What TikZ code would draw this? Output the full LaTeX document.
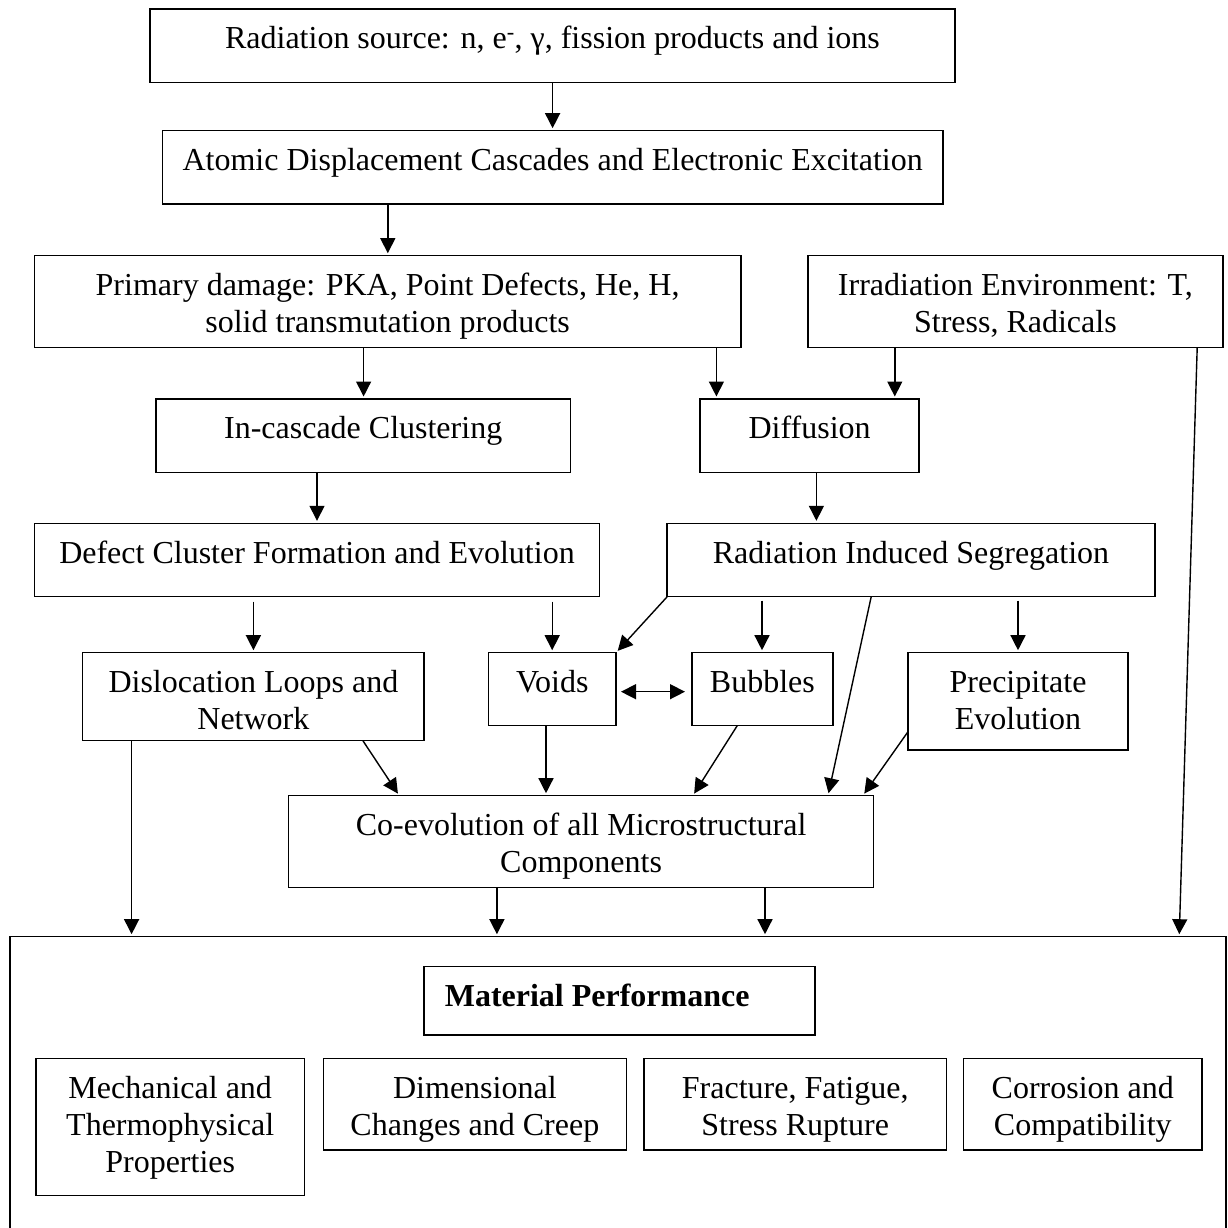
\documentclass[tikz,border=0pt]{standalone}
\usepackage{fontspec}
\setmainfont{Liberation Serif}
\usetikzlibrary{arrows.meta}
\newcommand{\bxt}[3]{\parbox[c][#2pt][t]{#1pt}{\vspace*{14.3pt}\centering\strut #3\par}}
\begin{document}
\begin{tikzpicture}[x=1pt,y=-1pt,
  bx/.style={draw, line width=1.5pt, inner sep=0pt, outer sep=0pt, font=\fontsize{32}{36.7}\selectfont},
  frame/.style={line width=1.5pt},
  arr/.style={line width=1.4pt, -{Triangle[length=15pt,width=15pt]}, shorten >=2.5pt},
  darr/.style={line width=1.4pt, {Triangle[length=15pt,width=15pt]}-{Triangle[length=15pt,width=15pt]}, shorten >=7pt, shorten <=5pt}]
\useasboundingbox (0,0) rectangle (1227,1228);

% boxes
\node[bx] (src) at (552.5,45.65) {\bxt{804.6}{73.3}{Radiation source: n, e\textsuperscript{-}, γ, fission products and ions}};
\node[bx] (disp) at (552.65,167.35) {\bxt{780.3}{73.3}{Atomic Displacement Cascades and Electronic Excitation}};
\node[bx] (prim) at (387.6,301.5) {\bxt{706.4}{91.6}{Primary damage: PKA, Point Defects, He, H,\\ solid transmutation products}};
\node[bx] (env) at (1015.4,301.5) {\bxt{414.8}{91.6}{Irradiation Environment: T,\\ Stress, Radicals}};
\node[bx] (incas) at (363.2,435.65) {\bxt{414.4}{73.3}{In-cascade Clustering}};
\node[bx] (diff) at (809.6,435.65) {\bxt{219.2}{73.3}{Diffusion}};
\node[bx] (defect) at (317,560) {\bxt{565.2}{73.4}{Defect Cluster Formation and Evolution}};
\node[bx] (ris) at (911,560) {\bxt{487.6}{73.4}{Radiation Induced Segregation}};
\node[bx] (disl) at (253.4,696.7) {\bxt{341.6}{88}{Dislocation Loops and\\ Network}};
\node[bx] (voids) at (552.3,689.2) {\bxt{127.4}{73}{Voids}};
\node[bx] (bubbles) at (762.4,689.2) {\bxt{140.8}{73}{Bubbles}};
\node[bx] (precip) at (1018,701.35) {\bxt{220}{97.3}{Precipitate\\ Evolution}};
\node[bx] (coevol) at (581.1,841.5) {\bxt{585}{91.6}{Co-evolution of all Microstructural\\ Components}};

% material performance frame (bottom edge outside the picture)
\node[inner sep=0pt, outer sep=0pt, minimum width=1216.1pt, minimum height=291.3pt] (perf) at (617.95,1082.35) {};
\draw[frame] (perf.south west) -- (perf.north west) -- (perf.north east) -- (perf.south east);

\node[bx] (mp) at (619.3,1000.85) {\parbox[c][68.3pt][t]{391pt}{\vspace*{14.3pt}\hspace*{21pt}\strut\bfseries Material Performance\par}};
\node[bx] (mech) at (170.2,1127) {\bxt{268.4}{136.6}{Mechanical and\\ Thermophysical\\ Properties}};
\node[bx] (dim) at (474.9,1104.35) {\bxt{303}{91.3}{Dimensional\\ Changes and Creep}};
\node[bx] (frac) at (795.2,1104.35) {\bxt{302.4}{91.3}{Fracture, Fatigue,\\ Stress Rupture}};
\node[bx] (corr) at (1082.8,1104.35) {\bxt{238.4}{91.3}{Corrosion and\\ Compatibility}};

% connectors
\draw[arr] (src.south -| 552.6,0) -- (disp.north -| 552.6,0);
\draw[arr] (disp.south -| 387.8,0) -- (prim.north -| 387.8,0);
\draw[arr] (prim.south -| 363.6,0) -- (incas.north -| 363.6,0);
\draw[arr] (prim.south -| 716.4,0) -- (diff.north -| 716.4,0);
\draw[arr] (env.south -| 894.8,0) -- (diff.north -| 894.8,0);
\draw[arr] (incas.south -| 317,0) -- (defect.north -| 317,0);
\draw[arr] (diff.south -| 816.4,0) -- (ris.north -| 816.4,0);
\draw[arr, shorten <=5pt] (defect.south -| 253.4,0) -- (disl.north -| 253.4,0);
\draw[arr, shorten <=5pt] (defect.south -| 552.2,0) -- (voids.north -| 552.2,0);
\draw[arr] (ris.south west) -- (voids.north east);
\draw[arr, shorten <=4pt] (ris.south -| 762,0) -- (bubbles.north -| 762,0);
\draw[arr] (ris.south -| 871.2,0) -- (coevol.north -| 828,0);
\draw[arr, shorten <=4pt] (ris.south -| 1018,0) -- (precip.north -| 1018,0);
\draw[darr] (voids.east |- 0,691.7) -- (bubbles.west |- 0,691.7);
\draw[arr] (disl.south -| 362.9,0) -- (coevol.north -| 399.3,0);
\draw[arr] (voids.south -| 546,0) -- (coevol.north -| 546,0);
\draw[arr] (bubbles.south -| 737.2,0) -- (coevol.north -| 692.8,0);
\draw[arr] (precip.west |- 0,731.7) -- (coevol.north -| 862.8,0);
\draw[arr] (disl.south -| 131.6,0) -- (perf.north -| 131.6,0);
\draw[arr] (coevol.south -| 496.9,0) -- (perf.north -| 496.9,0);
\draw[arr] (coevol.south -| 765,0) -- (perf.north -| 765,0);
\draw[arr] (env.south -| 1197.2,0) -- (perf.north -| 1179.2,0);
\end{tikzpicture}
\end{document}
